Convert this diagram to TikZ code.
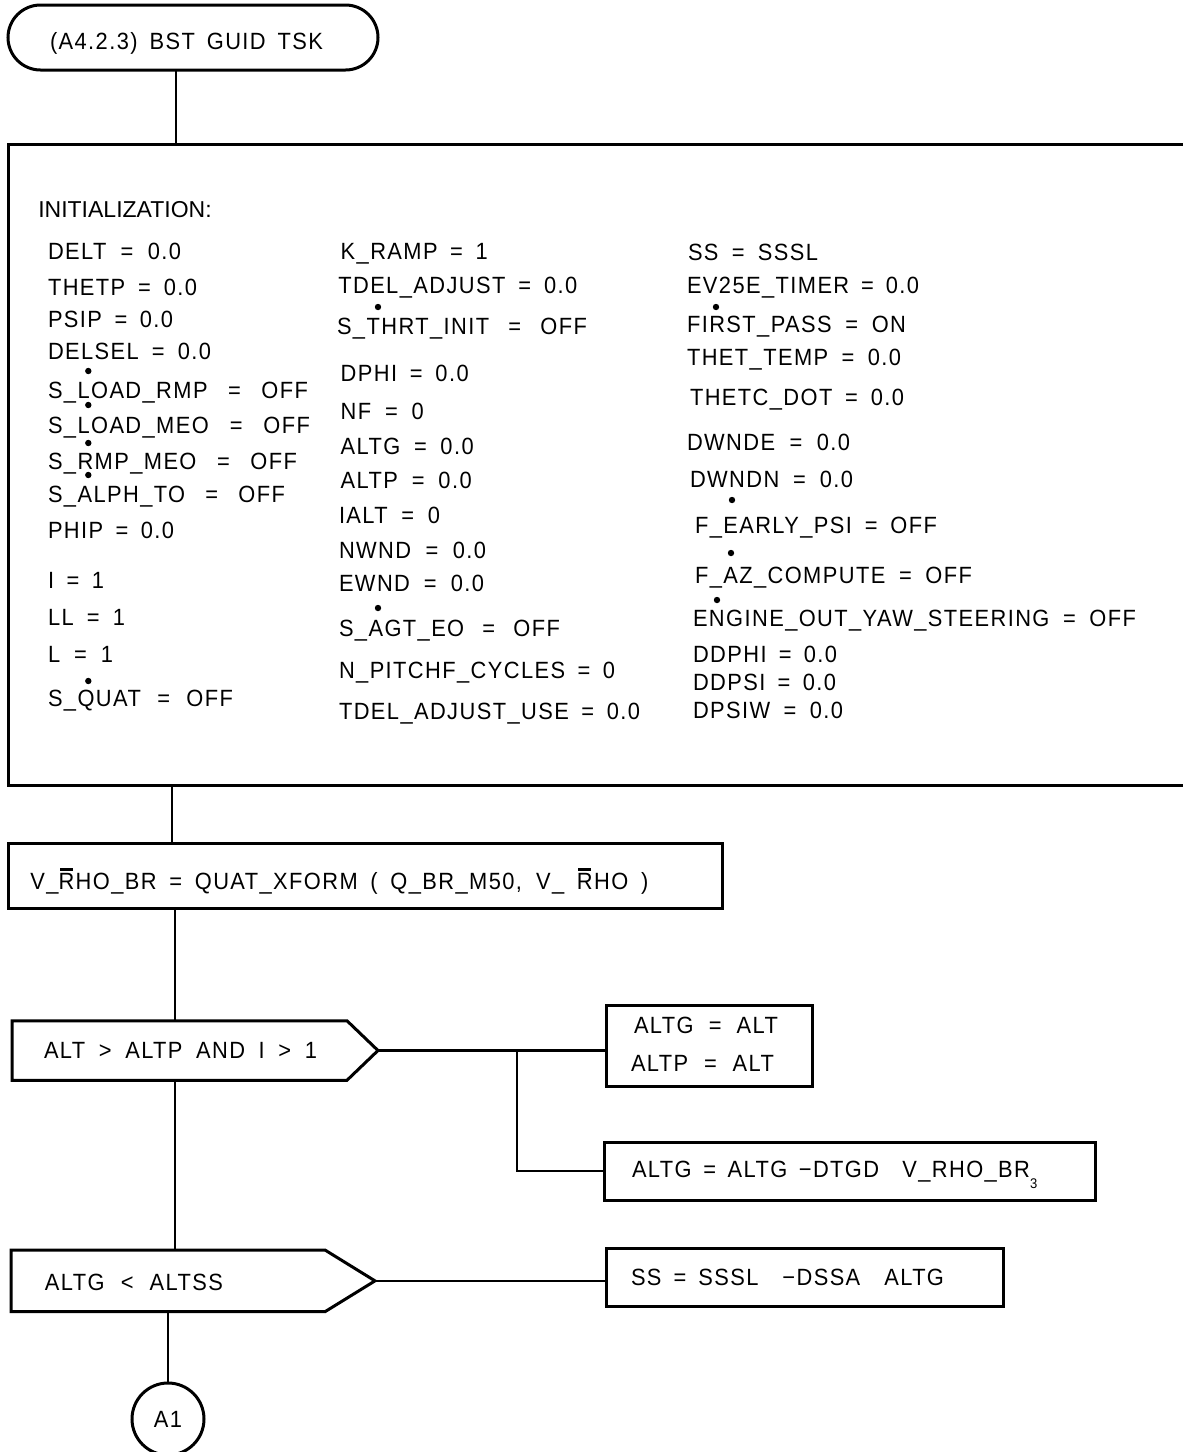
\documentclass[tikz,border=0pt]{standalone}
\usepackage{fontspec}
\setmainfont{Liberation Sans}[LetterSpace=6,FakeStretch=0.93]
\newfontfamily\plainfont{Liberation Sans}
\usetikzlibrary{shapes.misc}
\newcommand\fitw[2]{\makebox[#1pt][s]{#2}}
\newcommand\barR{\makebox[0pt][l]{\hspace{1.5pt}\rule[18.5pt]{13pt}{2.4pt}}R}
\begin{document}
\begin{tikzpicture}[x=1pt,y=-1pt,
  boxline/.style={draw,line width=3pt},
  conn/.style={line width=2.2pt},
  txt/.style={anchor=base west,inner sep=0pt,outer sep=0pt,font=\fontsize{23.5}{27}\selectfont},
  rbox/.style={boxline,rectangle,inner sep=0pt,outer sep=0pt},
  shp/.style={rectangle,inner sep=0pt,outer sep=0pt},
  dotm/.style={fill=black}]
\useasboundingbox (0,0) rectangle (1183,1452);
\clip (0,0) rectangle (1183,1452);

% ---- start terminal
\node[boxline,rounded rectangle,minimum width=370pt,minimum height=65pt,inner sep=0pt,outer sep=0pt] (start) at (193,37.5) {};
\node[txt] (tstart) at (50,49) {\fitw{273}{(A4.2.3) \ BST \ GUID \ TSK}};

% ---- initialization box
\node[rbox,minimum width=1192pt,minimum height=641pt] (init) at (604,464.5) {};
\node[txt,font=\plainfont\fontsize{23}{27}\selectfont] (tinit) at (38.3,217) {INITIALIZATION:};

% column 1
\node[txt] (c1a) at (48,259.5) {\fitw{133}{DELT = 0.0}};
\node[txt] (c1b) at (48,295) {\fitw{149}{THETP = 0.0}};
\node[txt] (c1c) at (48,327.5) {\fitw{125}{PSIP = 0.0}};
\node[txt] (c1d) at (48,359) {\fitw{163}{DELSEL = 0.0}};
\node[txt] (c1e) at (48,398) {\fitw{260}{S\_LOAD\_RMP = OFF}};
\node[txt] (c1f) at (48,433) {\fitw{262}{S\_LOAD\_MEO = OFF}};
\node[txt] (c1g) at (48,469.5) {\fitw{249}{S\_RMP\_MEO = OFF}};
\node[txt] (c1h) at (48,502.7) {\fitw{237}{S\_ALPH\_TO = OFF}};
\node[txt] (c1i) at (48,538.5) {\fitw{126}{PHIP = 0.0}};
\node[txt] (c1j) at (48,588) {\fitw{56}{I = 1}};
\node[txt] (c1k) at (48,625) {\fitw{77}{LL = 1}};
\node[txt] (c1l) at (48,662) {\fitw{65}{L = 1}};
\node[txt] (c1m) at (48,706.6) {\fitw{185}{S\_QUAT = OFF}};

% column 2
\node[txt] (c2a) at (340.7,259.7) {\fitw{147}{K\_RAMP = 1}};
\node[txt] (c2b) at (338.3,293) {\fitw{239}{TDEL\_ADJUST = 0.0}};
\node[txt] (c2c) at (337,334.7) {\fitw{250}{S\_THRT\_INIT = OFF}};
\node[txt] (c2d) at (340.7,381) {\fitw{128}{DPHI = 0.0}};
\node[txt] (c2e) at (340.7,419.7) {\fitw{83}{NF = 0}};
\node[txt] (c2f) at (340.7,454.7) {\fitw{133}{ALTG = 0.0}};
\node[txt] (c2g) at (340.7,488) {\fitw{131}{ALTP = 0.0}};
\node[txt] (c2h) at (339,523) {\fitw{101}{IALT = 0}};
\node[txt] (c2i) at (339,558) {\fitw{147}{NWND = 0.0}};
\node[txt] (c2j) at (339,591) {\fitw{145}{EWND = 0.0}};
\node[txt] (c2k) at (339,636) {\fitw{221}{S\_AGT\_EO = OFF}};
\node[txt] (c2l) at (339,678) {\fitw{276}{N\_PITCHF\_CYCLES = 0}};
\node[txt] (c2m) at (339,719.7) {\fitw{301}{TDEL\_ADJUST\_USE = 0.0}};

% column 3
\node[txt] (c3a) at (688,260) {\fitw{130}{SS = SSSL}};
\node[txt] (c3b) at (687,293) {\fitw{232}{EV25E\_TIMER = 0.0}};
\node[txt] (c3c) at (687,332) {\fitw{219}{FIRST\_PASS = ON}};
\node[txt] (c3d) at (687,365) {\fitw{214}{THET\_TEMP = 0.0}};
\node[txt] (c3e) at (690,405) {\fitw{214}{THETC\_DOT = 0.0}};
\node[txt] (c3f) at (687,450) {\fitw{163}{DWNDE = 0.0}};
\node[txt] (c3g) at (690,487) {\fitw{163}{DWNDN = 0.0}};
\node[txt] (c3h) at (695,533) {\fitw{242}{F\_EARLY\_PSI = OFF}};
\node[txt] (c3i) at (695,583) {\fitw{277}{F\_AZ\_COMPUTE = OFF}};
\node[txt] (c3j) at (693,626) {\fitw{443}{ENGINE\_OUT\_YAW\_STEERING = OFF}};
\node[txt] (c3k) at (693,662) {\fitw{144}{DDPHI = 0.0}};
\node[txt] (c3l) at (693,690) {\fitw{143}{DDPSI = 0.0}};
\node[txt] (c3m) at (693,718) {\fitw{150}{DPSIW = 0.0}};

% flag dots
\fill[dotm] (88.3,371) circle (3.2pt);
\fill[dotm] (88.3,405) circle (3.2pt);
\fill[dotm] (88.3,443) circle (3.2pt);
\fill[dotm] (88.3,475) circle (3.2pt);
\fill[dotm] (88.3,681) circle (3.2pt);
\fill[dotm] (378,307) circle (3.2pt);
\fill[dotm] (378,608) circle (3.2pt);
\fill[dotm] (716,307) circle (3.2pt);
\fill[dotm] (732,500) circle (3.2pt);
\fill[dotm] (731,553) circle (3.2pt);
\fill[dotm] (717,600) circle (3.2pt);

% ---- quaternion transform box
\node[rbox,minimum width=714pt,minimum height=65pt] (b2) at (365,875.5) {};
\node[txt] (tb2) at (30.4,889) {\fitw{618}{V\_\barR HO\_BR = QUAT\_XFORM ( Q\_BR\_M50, V\_ \barR HO )}};

% ---- decision 1
\node[shp,minimum width=366pt,minimum height=59.5pt] (dec1) at (195,1050.5) {};
\draw[boxline] (dec1.north west) -- ([xshift=-31pt]dec1.north east) -- (dec1.east)
  -- ([xshift=-31pt]dec1.south east) -- (dec1.south west) -- cycle;
\node[txt] (td1) at (44,1058) {\fitw{273}{ALT \ > \ ALTP \ AND \ I \ > \ 1}};

\node[rbox,minimum width=205.5pt,minimum height=81.7pt] (bA) at (709.25,1045.85) {};
\node[txt] (tA1) at (634,1033) {\fitw{144}{ALTG = ALT}};
\node[txt] (tA2) at (631,1071.5) {\fitw{143}{ALTP = ALT}};

\node[rbox,minimum width=491pt,minimum height=58pt] (bB) at (849.5,1171) {};
\node[txt] (tB) at (632,1177) {\fitw{398}{ALTG = ALTG −DTGD \ V\_RHO\_BR}\raisebox{-11pt}{\fontsize{14}{14}\selectfont 3}};

% ---- decision 2
\node[shp,minimum width=364pt,minimum height=61.7pt] (dec2) at (193,1280.85) {};
\draw[boxline] (dec2.north west) -- ([xshift=-50pt]dec2.north east) -- (dec2.east)
  -- ([xshift=-50pt]dec2.south east) -- (dec2.south west) -- cycle;
\node[txt] (td2) at (45,1290) {\fitw{178}{ALTG \ < \ ALTSS}};

\node[rbox,minimum width=396.5pt,minimum height=57.7pt] (bC) at (804.75,1277.15) {};
\node[txt] (tC) at (631,1285) {\fitw{313}{SS = SSSL \ −DSSA \ ALTG}};

% ---- connector circle
\node[boxline,circle,minimum size=72pt,inner sep=0pt,outer sep=0pt,font=\fontsize{23.5}{27}\selectfont] (A1) at (168,1419) {A1};

% ---- connectors
\coordinate (v1) at (176,0);
\coordinate (v2) at (172,0);
\coordinate (v3) at (175,0);
\coordinate (br) at (517,1050.5);
\draw[conn] (start.south -| v1) -- (init.north -| v1);
\draw[conn] (init.south -| v2) -- (b2.north -| v2);
\draw[conn] (b2.south -| v3) -- (dec1.north -| v3);
\draw[conn] (dec1.south -| v3) -- (dec2.north -| v3);
\draw[conn] (dec1.east) -- (dec1.east -| bA.west);
\draw[conn] (br) |- (bB.west);
\draw[conn] (dec2.east) -- (dec2.east -| bC.west);
\draw[conn] (dec2.south -| A1) -- (A1.north);
\end{tikzpicture}
\end{document}
